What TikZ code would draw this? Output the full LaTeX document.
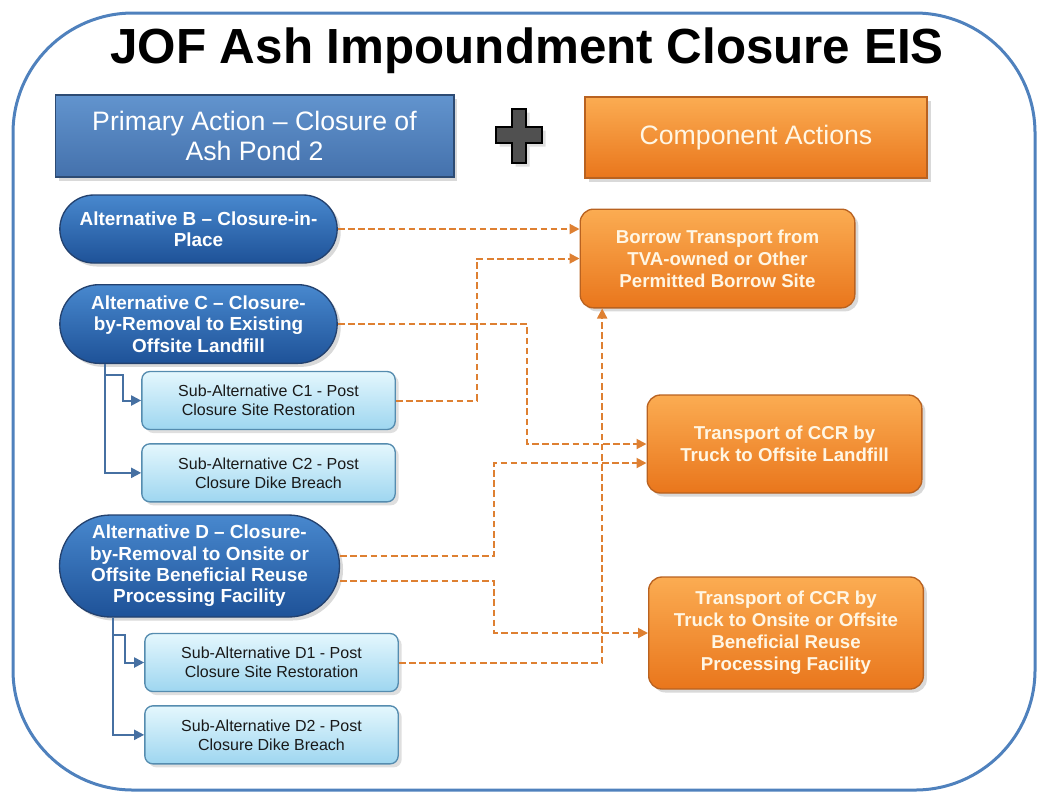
\documentclass[tikz,border=0pt]{standalone}
\usepackage{fontspec}
\setmainfont{Liberation Sans}
\usetikzlibrary{arrows.meta, positioning, shapes.misc, shadows}

\definecolor{frameblue}{RGB}{79,129,189}
\definecolor{primtop}{RGB}{98,148,206}
\definecolor{primbot}{RGB}{68,113,172}
\definecolor{primline}{RGB}{45,75,115}
\definecolor{orgtop}{RGB}{251,172,82}
\definecolor{orgbot}{RGB}{233,118,28}
\definecolor{orgline}{RGB}{185,98,32}
\definecolor{alttop}{RGB}{72,136,206}
\definecolor{altbot}{RGB}{30,82,152}
\definecolor{altline}{RGB}{35,65,110}
\definecolor{subtop}{RGB}{228,247,253}
\definecolor{subbot}{RGB}{158,214,240}
\definecolor{subline}{RGB}{85,140,175}
\definecolor{flowcol}{RGB}{222,128,50}
\definecolor{treecol}{RGB}{70,112,162}
\definecolor{plusgray}{RGB}{80,80,80}

\begin{document}
\begin{tikzpicture}[
    x=0.75pt, y=-0.75pt,
    >={Triangle[length=7.5pt, width=7.5pt]},
    titletext/.style={font=\fontsize{37}{44}\selectfont\bfseries},
    primary/.style={draw=primline, line width=1pt, top color=primtop,
                    bottom color=primbot, minimum width=299pt,
                    minimum height=61.5pt, align=center, text=white,
                    font=\fontsize{20}{22.5}\selectfont,
                    drop shadow={opacity=0.3}},
    component/.style={draw=orgline, line width=1pt, top color=orgtop,
                      bottom color=orgbot, minimum width=256.5pt,
                      minimum height=60.75pt, align=center,
                      text={rgb,255:red,255;green,246;blue,228},
                      font=\fontsize{20}{22.5}\selectfont,
                      drop shadow={opacity=0.3}},
    altbox/.style={rounded rectangle, draw=altline, line width=1pt,
                   top color=alttop, bottom color=altbot, minimum width=212pt,
                   align=center, text=white, inner sep=2pt,
                   font=\fontsize{14.2}{16}\selectfont\bfseries,
                   drop shadow={opacity=0.3}},
    subbox/.style={draw=subline, line width=1pt, rounded corners=6pt,
                   top color=subtop, bottom color=subbot, minimum width=190pt,
                   minimum height=43.5pt, align=center,
                   text={rgb,255:red,25;green,25;blue,25},
                   font=\fontsize{12}{14.25}\selectfont,
                   drop shadow={opacity=0.25}},
    compbox/.style={draw=orgline, line width=1pt, rounded corners=10pt,
                    top color=orgtop, bottom color=orgbot, minimum width=206pt,
                    align=center, text={rgb,255:red,255;green,246;blue,228},
                    font=\fontsize{14}{16.5}\selectfont\bfseries,
                    drop shadow={opacity=0.3}},
    flow/.style={->, flowcol, line width=1.5pt, dash pattern=on 5pt off 2.6pt},
    tree/.style={->, treecol, line width=1.5pt}
  ]
  \useasboundingbox (0,0) rectangle (1037,794);

  % Outer frame
  \draw[frameblue, line width=2.25pt, rounded corners=90pt]
    (13,13) rectangle (1035,790);

  \node[titletext, anchor=base] (title) at (527,63)
    {JOF Ash Impoundment Closure EIS};

  % Header row
  \node[primary] (primary) at (254.5,136)
    {Primary Action -- Closure of\\Ash Pond 2};
  \node[component] (component) at (756,137.5) {Component Actions};
  \draw[black, line width=1.5pt, fill=plusgray, drop shadow={opacity=0.25}]
    (512,109) -- (526,109) -- (526,127) -- (542,127) -- (542,143)
    -- (526,143) -- (526,163) -- (512,163) -- (512,143) -- (496,143)
    -- (496,127) -- (512,127) -- cycle;

  % Alternatives
  \node[altbox, minimum height=51pt] (altB) at (198.5,229)
    {Alternative B -- Closure-in-\\Place};
  \node[altbox, minimum height=59pt] (altC) at (198.5,324)
    {Alternative C -- Closure-\\by-Removal to Existing\\Offsite Landfill};
  \node[subbox] (c1) at (268.5,400.5)
    {Sub-Alternative C1 - Post\\Closure Site Restoration};
  \node[subbox, below=9.75pt of c1] (c2)
    {Sub-Alternative C2 - Post\\Closure Dike Breach};
  \node[altbox, minimum width=214pt, minimum height=76.5pt] (altD)
    at (199.5,566)
    {Alternative D -- Closure-\\by-Removal to Onsite or\\Offsite Beneficial Reuse\\Processing Facility};
  \node[subbox] (d1) at (271.5,662.5)
    {Sub-Alternative D1 - Post\\Closure Site Restoration};
  \node[subbox, below=9.75pt of d1] (d2)
    {Sub-Alternative D2 - Post\\Closure Dike Breach};

  % Component actions
  \node[compbox, minimum height=74pt] (borrow) at (717.5,258.5)
    {Borrow Transport from\\TVA-owned or Other\\Permitted Borrow Site};
  \node[compbox, minimum height=73.5pt] (ccrLand) at (784.5,444)
    {Transport of CCR by\\Truck to Offsite Landfill};
  \node[compbox, minimum height=84pt] (ccrProc) at (786,633)
    {Transport of CCR by\\Truck to Onsite or Offsite\\Beneficial Reuse\\Processing Facility};

  % Sub-alternative branches
  \draw[tree] ([xshift=-70pt]altC.south) |- (c2.west);
  \draw[tree] ([xshift=-70pt, yshift=-8pt]altC.south) -- ++(13.5pt,0)
    |- (c1.west);
  \draw[tree] ([xshift=-65pt]altD.south) |- (d2.west);
  \draw[tree] ([xshift=-65pt, yshift=-12.75pt]altD.south) -- ++(9pt,0)
    |- (d1.west);

  % Dashed links to component actions
  \coordinate (jB) at (477,0);
  \coordinate (jC) at (527,0);
  \coordinate (jD) at (494,0);
  \coordinate (landIn2) at ([yshift=-14.25pt]ccrLand.west);
  \coordinate (borrowIn3) at ([xshift=17pt]borrow.south west);

  \draw[flow] (altB.east) -- (altB.east -| borrow.west);
  \draw[flow] (c1.east) -| (jB |- borrow.west) -- (borrow.west);
  \draw[flow] (altC.east) -| (jC |- ccrLand.west) -- (ccrLand.west);
  \draw[flow] ([yshift=7.5pt]altD.east) -| (jD |- landIn2) -- (landIn2);
  \draw[flow] ([yshift=-11.25pt]altD.east) -| (jD |- ccrProc.west)
    -- (ccrProc.west);
  \draw[flow] (d1.east) -| (borrowIn3);
\end{tikzpicture}
\end{document}
